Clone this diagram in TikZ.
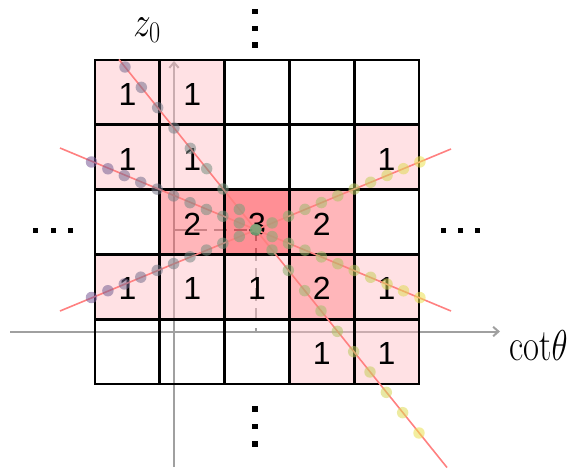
\documentclass[tikz,border=0pt]{standalone}
\usepackage{fontspec}
\newfontfamily\digitfont{Liberation Sans}
\usetikzlibrary{arrows.meta}
\definecolor{axisgray}{RGB}{160,160,160}
\definecolor{linepink}{RGB}{255,128,128}
\definecolor{p1}{RGB}{255,188,195}
\definecolor{p2}{RGB}{255,93,102}
\definecolor{p3}{RGB}{255,6,19}
\definecolor{dpu}{RGB}{120,90,150}
\definecolor{dgn}{RGB}{120,165,120}
\definecolor{dyl}{RGB}{235,225,80}
\newcommand\mydot[2]{%
  \pgfmathsetmacro\dotx{#1}\pgfmathsetmacro\doty{#2}%
  \pgfmathsetmacro\dott{max(0,min(1,(\dotx-91)/329))}%
  \pgfmathtruncatemacro\dpc{round(200*\dott)}%
  \ifnum\dpc<100 \colorlet{dc}{dgn!\dpc!dpu}\else\pgfmathtruncatemacro\dpd{\dpc-100}\colorlet{dc}{dyl!\dpd!dgn}\fi
  \fill[dc, fill opacity=0.55] (\dotx,\doty) circle (4.3pt);%
}
\begin{document}
\begin{tikzpicture}[x=0.75pt,y=-0.75pt,
  axis/.style={draw=axisgray, line width=1.5pt, -{Straight Barb[length=4pt,width=7pt]}},
  dashline/.style={draw=axisgray, line width=1.2pt, dash pattern=on 10pt off 5pt},
  cell/.style={draw=black, line width=2pt, minimum size=48.6pt, inner sep=0pt, outer sep=0pt,
    fill opacity=0.45, text opacity=1, font=\digitfont\fontsize{24}{28}\selectfont,
    text height=19.5pt, text depth=0pt},
  v0/.style={}, v1/.style={fill=p1}, v2/.style={fill=p2}, v3/.style={fill=p3},
  pinkline/.style={draw=linepink, line width=1.2pt},
  sq/.style={fill=black, minimum size=4pt, inner sep=0pt, outer sep=0pt},
  mathlabel/.style={anchor=base west, inner sep=0pt, font=\fontsize{26}{30}\selectfont}]
\useasboundingbox (0,0) rectangle (574,469);
% axes
\coordinate (yb) at (174,467); \coordinate (yt) at (174,61);
\coordinate (xl) at (10,331.5); \coordinate (xr) at (500,331.5);
\draw[axis] (yb) -- (yt);
\draw[axis] (xl) -- (xr);
% projection lines
\coordinate (P) at (255.7,229.7);
\coordinate (dl) at (174,229.7); \coordinate (db) at (255.7,331.5);
\draw[dashline] (dl) -- (P) -- (db);
% cells
\foreach \r/\c/\v in {1/1/1,1/2/1,1/3/0,1/4/0,1/5/0,
                      2/1/1,2/2/1,2/3/0,2/4/0,2/5/1,
                      3/1/0,3/2/2,3/3/3,3/4/2,3/5/0,
                      4/1/1,4/2/1,4/3/1,4/4/2,4/5/1,
                      5/1/0,5/2/0,5/3/0,5/4/1,5/5/1}{
  \node[cell, v\v] (c\r\c) at ({95+64.8*\c-32.4},{60+64.8*\r-32.4}) {\ifnum\v>0 \v\fi};
}
% lines
\coordinate (a1) at (119,59.5); \coordinate (a2) at (447,467.5);
\coordinate (b1) at (60,311); \coordinate (b2) at (451,149);
\coordinate (e1) at (60,148); \coordinate (e2) at (451,311);
\draw[pinkline] (a1) -- (a2);
\draw[pinkline] (b1) -- (b2);
\draw[pinkline] (e1) -- (e2);
% dots
\foreach \i in {0,...,18} {\mydot{125+16.333*\i}{67+20.333*\i}}
\foreach \i in {0,...,20} {\mydot{91.5+16.42*\i}{297.5-6.78*\i}}
\foreach \i in {0,...,20} {\mydot{91.5+16.42*\i}{162+6.78*\i}}
% ellipses
\foreach \k/\y in {1/11.7,2/28.3,3/45}{\node[sq] (vt\k) at (255,\y) {};}
\foreach \k/\y in {1/409,2/426.7,3/444}{\node[sq] (vb\k) at (255,\y) {};}
\foreach \k/\x in {1/35.7,2/53.3,3/70.7}{\node[sq] (hl\k) at (\x,230.7) {};}
\foreach \k/\x in {1/443.3,2/460.7,3/477.7}{\node[sq] (hr\k) at (\x,230.7) {};}
% labels
\node[mathlabel] (zl) at (133,36) {\scalebox{1.05}[1.3]{$z_0$}};
\node[mathlabel] (cl) at (509,360) {\scalebox{1.0}[1.3]{$\mathrm{cot}\theta$}};
\end{tikzpicture}
\end{document}
